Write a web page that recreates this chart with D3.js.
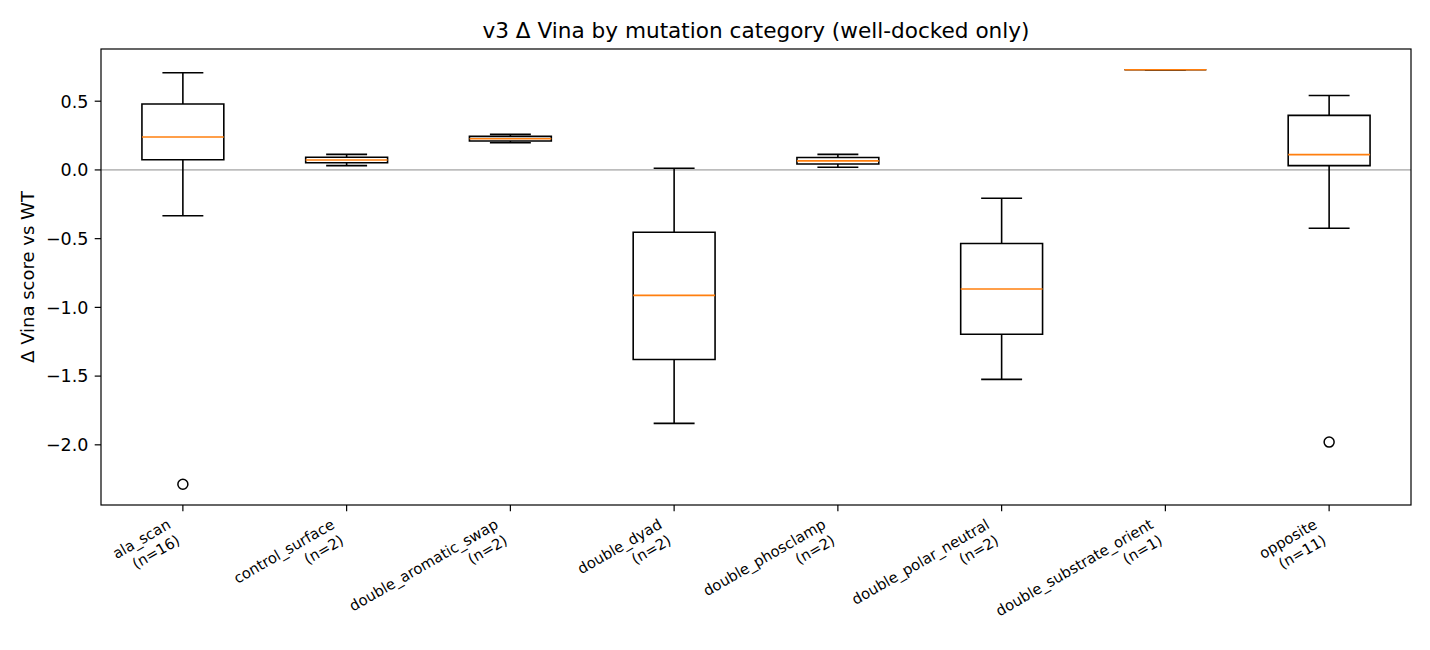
<!DOCTYPE html>
<html>
<head>
<meta charset="utf-8">
<script src="https://cdn.jsdelivr.net/npm/d3@7"></script>
<style>
body { margin: 0; background: #fff; }
text { font-family: "DejaVu Sans", sans-serif; fill: #000; }
</style>
</head>
<body>
<svg id="chart" width="1430" height="650"></svg>
<script>
// box statistics (five numbers + fliers)
var categories = ['ala_scan', 'control_surface', 'double_aromatic_swap', 'double_dyad',
    'double_phosclamp', 'double_polar_neutral', 'double_substrate_orient', 'opposite'];
var counts = [16, 2, 2, 2, 2, 2, 1, 11];
var whiskerLow = [-0.333, 0.031, 0.198, -1.844, 0.019, -1.524, 0.729, -0.424];
var q1 = [0.074, 0.052, 0.211, -1.379, 0.043, -1.195, 0.729, 0.031];
var medians = [0.240, 0.072, 0.227, -0.913, 0.066, -0.866, 0.729, 0.111];
var q3 = [0.480, 0.092, 0.244, -0.453, 0.090, -0.535, 0.729, 0.397];
var whiskerHigh = [0.707, 0.113, 0.259, 0.012, 0.113, -0.206, 0.729, 0.542];
var fliers = [[-2.287], [], [], [], [], [], [], [-1.980]];
var yTicks = [-2.0, -1.5, -1.0, -0.5, 0.0, 0.5];

var WIDTH = 1430, HEIGHT = 650;
var margin = { left: 101, right: 19, top: 49, bottom: 145 };
var BOX_WIDTH = 0.5, CAP_WIDTH = 0.25;
var LINE_W = 1.6;
var MEDIAN_COLOR = '#ff7f0e';
var TICK_LEN = 6.3, TICK_PAD = 6.3;
var XTICK_FONT = 14.8, YTICK_FONT = 17.5;

var svg = d3.select('#chart');
var plotBottom = HEIGHT - margin.bottom, plotRight = WIDTH - margin.right;

// y domain like matplotlib autoscale: data extent + 5% margin
var allVals = d3.merge([whiskerLow, whiskerHigh, d3.merge(fliers)]);
var ext = d3.extent(allVals);
var pad = (ext[1] - ext[0]) * 0.05;
var y = d3.scaleLinear().domain([ext[0] - pad, ext[1] + pad]).range([plotBottom, margin.top]);
var x = d3.scaleLinear().domain([0.5, categories.length + 0.5]).range([margin.left, plotRight]);

var boxes = categories.map(function (c, i) {
    return { name: c, n: counts[i], pos: i + 1, lo: whiskerLow[i], q1: q1[i], med: medians[i],
        q3: q3[i], hi: whiskerHigh[i], fliers: fliers[i] };
});

// zero reference line
svg.append('line')
    .attr('x1', margin.left).attr('x2', plotRight)
    .attr('y1', y(0)).attr('y2', y(0))
    .attr('stroke', '#8c8c8c').attr('stroke-width', 1);

var g = svg.selectAll('g.box').data(boxes).enter().append('g').attr('class', 'box');

// whiskers
g.append('line').attr('x1', function (d) { return x(d.pos); }).attr('x2', function (d) { return x(d.pos); })
    .attr('y1', function (d) { return y(d.q1); }).attr('y2', function (d) { return y(d.lo); })
    .attr('stroke', '#000').attr('stroke-width', LINE_W);
g.append('line').attr('x1', function (d) { return x(d.pos); }).attr('x2', function (d) { return x(d.pos); })
    .attr('y1', function (d) { return y(d.q3); }).attr('y2', function (d) { return y(d.hi); })
    .attr('stroke', '#000').attr('stroke-width', LINE_W);

// caps
['lo', 'hi'].forEach(function (k) {
    g.append('line')
        .attr('x1', function (d) { return x(d.pos - CAP_WIDTH / 2); })
        .attr('x2', function (d) { return x(d.pos + CAP_WIDTH / 2); })
        .attr('y1', function (d) { return y(d[k]); }).attr('y2', function (d) { return y(d[k]); })
        .attr('stroke', '#000').attr('stroke-width', LINE_W);
});

// box outline as a path so a zero-height box still shows
g.append('path')
    .attr('d', function (d) {
        var x0 = x(d.pos - BOX_WIDTH / 2), x1 = x(d.pos + BOX_WIDTH / 2);
        return 'M' + x0 + ',' + y(d.q1) + 'H' + x1 + 'V' + y(d.q3) + 'H' + x0 + 'Z';
    })
    .attr('fill', 'none').attr('stroke', '#000').attr('stroke-width', LINE_W);

// medians
g.append('line')
    .attr('x1', function (d) { return x(d.pos - BOX_WIDTH / 2); })
    .attr('x2', function (d) { return x(d.pos + BOX_WIDTH / 2); })
    .attr('y1', function (d) { return y(d.med); }).attr('y2', function (d) { return y(d.med); })
    .attr('stroke', MEDIAN_COLOR).attr('stroke-width', LINE_W);

// fliers
g.selectAll('circle').data(function (d) { return d.fliers.map(function (v) { return { pos: d.pos, v: v }; }); })
    .enter().append('circle')
    .attr('cx', function (d) { return x(d.pos); }).attr('cy', function (d) { return y(d.v); })
    .attr('r', 5).attr('fill', 'none').attr('stroke', '#000').attr('stroke-width', 1.5);

// frame
svg.append('rect').attr('x', margin.left).attr('y', margin.top)
    .attr('width', plotRight - margin.left).attr('height', plotBottom - margin.top)
    .attr('fill', 'none').attr('stroke', '#000').attr('stroke-width', 1.2);

// y axis
var yAxis = svg.append('g');
yTicks.forEach(function (t) {
    yAxis.append('line').attr('x1', margin.left - TICK_LEN).attr('x2', margin.left)
        .attr('y1', y(t)).attr('y2', y(t)).attr('stroke', '#000').attr('stroke-width', 1.2);
    yAxis.append('text').attr('x', margin.left - TICK_LEN - TICK_PAD).attr('y', y(t))
        .attr('dy', '0.36em').attr('text-anchor', 'end').style('font-size', YTICK_FONT + 'px')
        .text(d3.format('.1f')(t));
});

// x axis: rotated two-line labels, right aligned (rotated box right edge at tick)
var xAxis = svg.append('g');
var labelTop = plotBottom + TICK_LEN + TICK_PAD;
var asc = 0.76 * XTICK_FONT, step = 1.25 * XTICK_FONT;
var boxH = asc + step + 0.24 * XTICK_FONT;
boxes.forEach(function (d) {
    var tx = x(d.pos);
    xAxis.append('line').attr('x1', tx).attr('x2', tx)
        .attr('y1', plotBottom).attr('y2', plotBottom + TICK_LEN).attr('stroke', '#000').attr('stroke-width', 1.2);
    var lbl = xAxis.append('text')
        .attr('transform', 'translate(' + (tx - 0.5 * boxH) + ',' + labelTop + ') rotate(-30)')
        .attr('text-anchor', 'end').style('font-size', XTICK_FONT + 'px');
    lbl.append('tspan').attr('x', 0).attr('y', asc).text(d.name);
    lbl.append('tspan').attr('x', 0).attr('y', asc + step).text('(n=' + d.n + ')');
});

// y label
svg.append('text')
    .attr('transform', 'translate(28,' + ((margin.top + plotBottom) / 2) + ') rotate(-90)')
    .attr('text-anchor', 'middle').attr('dy', '0.36em').style('font-size', '18px')
    .text('Δ Vina score vs WT');

// title
svg.append('text')
    .attr('x', (margin.left + plotRight) / 2).attr('y', 38)
    .attr('text-anchor', 'middle').style('font-size', '21.6px')
    .text('v3 Δ Vina by mutation category (well-docked only)');
</script>
</body>
</html>
